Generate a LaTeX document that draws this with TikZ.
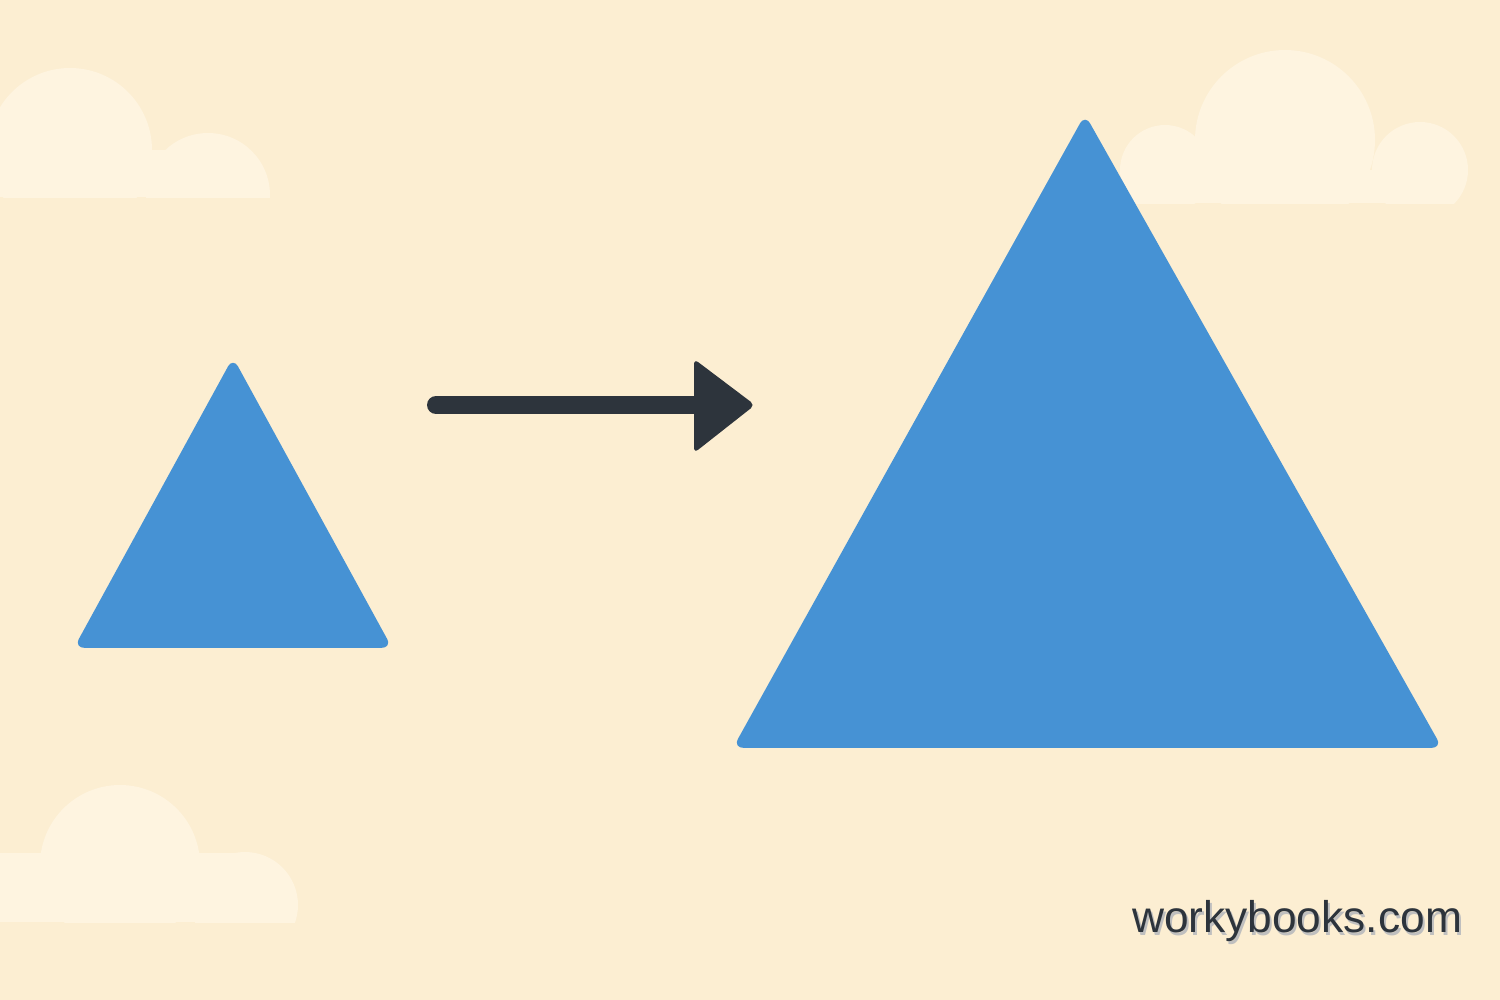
\documentclass[tikz,border=0pt]{standalone}
\usepackage{fontspec}
\setmainfont{Liberation Sans}
\usepackage{tikz}
\definecolor{sand}{HTML}{FCEED2}
\definecolor{cloudy}{HTML}{FEF4E0}
\definecolor{triblue}{HTML}{4692D4}
\definecolor{ink}{HTML}{2D343C}
\tikzset{
  tri/.style={fill=triblue, draw=triblue, line width=1pt, rounded corners=2pt},
  cloud part/.style={fill=cloudy},
}

\begin{document}
\begin{tikzpicture}[x=0.01cm, y=-0.01cm]
      \fill[sand] (0,0) rectangle (1500,1000);
      \useasboundingbox (0,0) rectangle (1500,1000);
      % clouds
      \begin{scope}
        \clip (0,0) rectangle (1500,197);
        \fill[cloud part] (70,150) circle (82);
        \fill[cloud part] (208,195) circle (62);
        \fill[cloud part] (0,150) rectangle (208,197);
      \end{scope}
      \begin{scope}
        \clip (0,0) rectangle (1500,203);
        \fill[cloud part] (1285,140) circle (90);
        \fill[cloud part] (1165,170) circle (45);
        \fill[cloud part] (1420,170) circle (48);
        \fill[cloud part] (1165,170) rectangle (1420,203);
      \end{scope}
      \begin{scope}
        \clip (0,0) rectangle (1500,922);
        \fill[cloud part] (120,865) circle (80);
        \fill[cloud part] (245,905) circle (53);
        \fill[cloud part] (0,853) rectangle (245,922);
      \end{scope}
      % triangles
      \draw[tri] (233,361) -- (389,646) -- (77,646) -- cycle;
      \draw[tri] (1085,118) -- (1439,746) -- (736,746) -- cycle;
      % arrow
      \coordinate (from) at (436,405);
      \coordinate (to) at (705,405);
      \draw[ink, line width=0.18cm, line cap=round] (from) -- (to);
      \fill[ink, rounded corners=1.5pt] (694,359) -- (755,405) -- (694,453) -- cycle;
      % logo
      \node[text=black!25, font=\fontsize{12.6pt}{12.6pt}\selectfont] at (1299,924) {workybooks.com};
      \node[text=ink, font=\fontsize{12.6pt}{12.6pt}\selectfont] (logo) at (1297,921) {workybooks.com};
    \end{tikzpicture}
\end{document}
